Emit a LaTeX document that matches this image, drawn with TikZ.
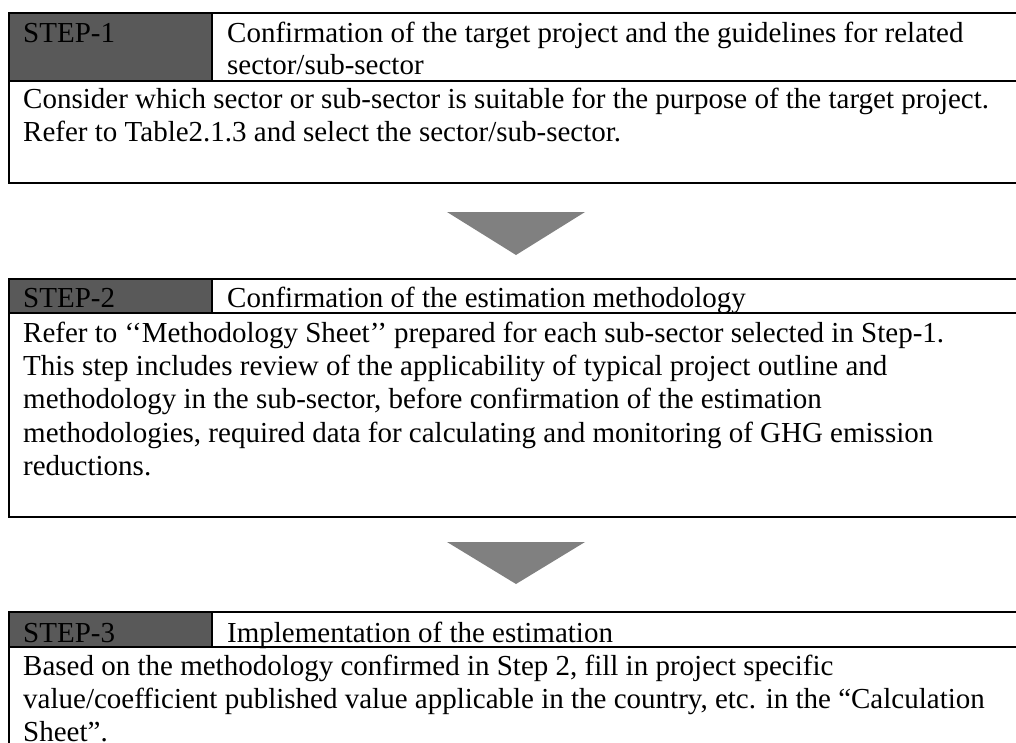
\documentclass[tikz,border=0pt]{standalone}
\usepackage{fontspec}
\setmainfont{Liberation Serif}
\begin{document}
\begin{tikzpicture}[x=1pt,y=-1pt,
  frame/.style={line width=2.3pt, black},
  hdrfill/.style={fill=hdrgray},
  arrowfill/.style={fill=arrowgray},
  txt/.style={anchor=base west, inner sep=0pt, font=\fontsize{29}{33}\selectfont}]
\definecolor{hdrgray}{HTML}{595959}
\definecolor{arrowgray}{HTML}{808080}
\useasboundingbox (0,0) rectangle (1016,742);
\clip (0,0) rectangle (1016,742);

% ---- Step 1 ----
\fill[hdrfill] (9,13) rectangle (212,81);
\draw[frame] (1030,13) -- (9,13) -- (9,183) -- (1030,183);
\draw[frame] (9,81) -- (1030,81);
\draw[frame] (212,13) -- (212,81);
\node[txt] (s1tag) at (23,42) {STEP-1};
\node[txt] (s1t1) at (227,42) {Confirmation of the target project and the guidelines for related};
\node[txt] (s1t2) at (227,74) {sector/sub-sector};
\node[txt] (s1b1) at (23,108) {Consider which sector or sub-sector is suitable for the purpose of the target project.};
\node[txt] (s1b2) at (23,141) {Refer to Table2.1.3 and select the sector/sub-sector.};

% ---- arrow 1 ----
\fill[arrowfill] (447,212) -- (585,212) -- (516,255) -- cycle;

% ---- Step 2 ----
\fill[hdrfill] (9,279) rectangle (212,313);
\draw[frame] (1030,279) -- (9,279) -- (9,517) -- (1030,517);
\draw[frame] (9,313) -- (1030,313);
\draw[frame] (212,279) -- (212,313);
\node[txt] (s2tag) at (23,307) {STEP-2};
\node[txt] (s2t1) at (227,307) {Confirmation of the estimation methodology};
\node[txt] (s2b1) at (23,342) {Refer to ‘‘Methodology Sheet’’ prepared for each sub-sector selected in Step-1.};
\node[txt] (s2b2) at (23,375) {This step includes review of the applicability of typical project outline and};
\node[txt] (s2b3) at (23,408) {methodology in the sub-sector, before confirmation of the estimation};
\node[txt] (s2b4) at (23,442) {methodologies, required data for calculating and monitoring of GHG emission};
\node[txt] (s2b5) at (23,475) {reductions.};

% ---- arrow 2 ----
\fill[arrowfill] (447,542) -- (585,542) -- (516,584) -- cycle;

% ---- Step 3 ----
\fill[hdrfill] (9,612) rectangle (212,647);
\draw[frame] (1030,612) -- (9,612) -- (9,760);
\draw[frame] (9,647) -- (1030,647);
\draw[frame] (212,612) -- (212,647);
\node[txt] (s3tag) at (23,642) {STEP-3};
\node[txt] (s3t1) at (227,642) {Implementation of the estimation};
\node[txt] (s3b1) at (23,675) {Based on the methodology confirmed in Step 2, fill in project specific};
\node[txt] (s3b2) at (23,708) {value/coefficient published value applicable in the country, etc. in the “Calculation};
\node[txt] (s3b3) at (23,741) {Sheet”.};
\end{tikzpicture}
\end{document}
